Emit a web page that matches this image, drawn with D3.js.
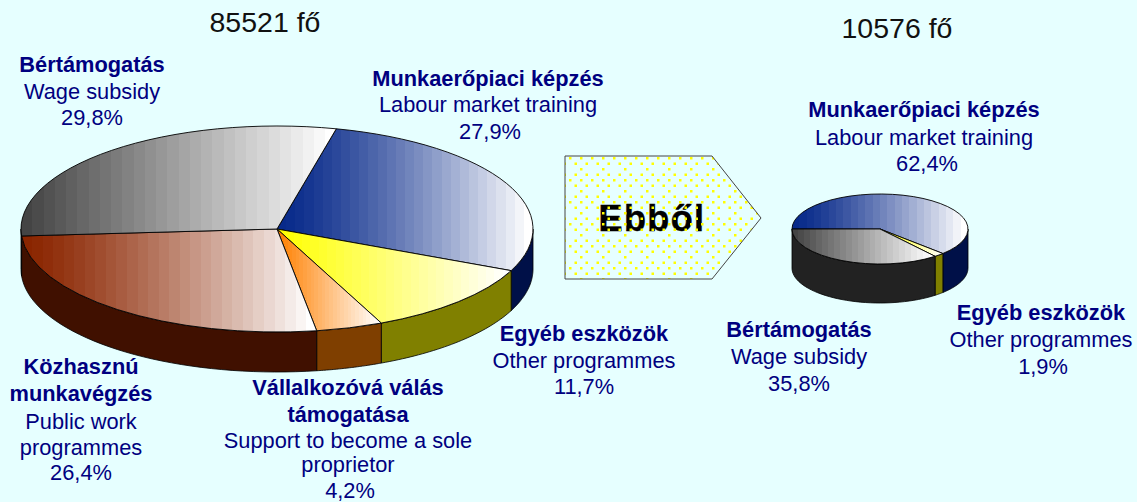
<!DOCTYPE html>
<html><head><meta charset="utf-8">
<script src="https://cdnjs.cloudflare.com/ajax/libs/d3/7.8.5/d3.min.js"></script>
<style>html,body{margin:0;padding:0;background:#e6ffff;overflow:hidden}svg{display:block}
text{font-family:"Liberation Sans",Arial,sans-serif}</style></head><body>
<svg id="c" width="1137" height="502"></svg>
<script>
const mainCategories = ["Munkaerőpiaci képzés","Egyéb eszközök","Vállalkozóvá válás","Közhasznú munkavégzés","Bértámogatás"];
const mainValues = [27.9, 11.7, 4.2, 26.4, 29.8];
const subCategories = ["Munkaerőpiaci képzés","Egyéb eszközök","Bértámogatás"];
const subValues = [62.4, 1.9, 35.8];
const mainTotal = "85521 fő";
const subTotal = "10576 fő";
const arrowLabel = "Ebből";

const mainColors = {top:["#082a8a","#ffff00","#ff8000","#8a2500","#444444"], curve:[1.3,1,1,1.25,1], wall:["#001048","#808000","#7f3f00","#401000","#222222"]};
const subColors = {top:["#082a8a","#ffff00","#444444"], curve:[1.3,1,1], wall:["#001048","#808000","#222222"]};

const INK = "#000080";
const svg = d3.select("#c");
const defs = svg.append("defs");
let gid = 0;

function bandedGradient(color, bands, curve){
  const id = "g"+(gid++);
  const ramp = d3.scalePow().exponent(curve).domain([0,1]).range([color,"#ffffff"]).interpolate(d3.interpolateRgb);
  const g = defs.append("linearGradient").attr("id",id).attr("x1",0).attr("x2",1).attr("y1",0).attr("y2",0);
  for(let i=0;i<bands;i++){
    const c = ramp(i/(bands-1));
    g.append("stop").attr("offset",i/bands).attr("stop-color",c);
    g.append("stop").attr("offset",(i+1)/bands).attr("stop-color",c);
  }
  return "url(#"+id+")";
}

function pie3d(values, colors, o){
  const toRad = Math.PI/180;
  const start = o.start*toRad;
  const slices = d3.pie().sort(null).startAngle(start).endAngle(start+2*Math.PI)(values);
  const g = svg.append("g").attr("transform",`translate(${o.cx},${o.cy})`);
  const xOf = t => o.rx*Math.sin(t), yOf = t => -o.ry*Math.cos(t);
  slices.forEach((s,i)=>{
    let spans=[[s.startAngle,s.endAngle],[s.startAngle+2*Math.PI,s.endAngle+2*Math.PI],[s.startAngle-2*Math.PI,s.endAngle-2*Math.PI]];
    spans.forEach(sp=>{
      const a0=Math.max(sp[0],Math.PI/2), a1=Math.min(sp[1],3*Math.PI/2);
      if(a1<=a0) return;
      const ts=d3.range(0,41).map(k=>a0+(a1-a0)*k/40);
      const pts=ts.map(t=>[xOf(t),yOf(t)]).concat(ts.slice().reverse().map(t=>[xOf(t),yOf(t)+o.depth]));
      g.append("path").attr("d",d3.line()(pts)+"Z").attr("fill",colors.wall[i])
        .attr("stroke","#000").attr("stroke-width",0.8).attr("stroke-linejoin","round");
    });
  });
  const arc = d3.arc().innerRadius(0).outerRadius(o.rx);
  const top = g.append("g").attr("transform",`scale(1,${o.ry/o.rx})`);
  top.selectAll("path").data(slices).join("path")
    .attr("d",arc)
    .attr("fill",(d,i)=>bandedGradient(colors.top[i],o.bands,colors.curve[i]))
    .attr("stroke","#000").attr("stroke-width",0.9)
    .attr("vector-effect","non-scaling-stroke");
}

pie3d(mainValues, mainColors, {cx:277,cy:229,rx:256,ry:103,depth:40,start:13.4,bands:28});
pie3d(subValues, subColors, {cx:880,cy:229,rx:88,ry:35,depth:39,start:-90,bands:24});

function title(t,x,y){svg.append("text").attr("x",x).attr("y",y).attr("text-anchor","middle").attr("font-size",28.5).attr("fill","#111").text(t);}
title(mainTotal,265,32);
title(subTotal,897,38);

function label(lines,x,ys,pctShift){
  lines.forEach((l,i)=>{
    svg.append("text").attr("x",x+(i===lines.length-1?pctShift:0)).attr("y",ys[i]).attr("text-anchor","middle")
      .attr("font-size",21.8).attr("fill",INK).attr("font-weight",l[1]?"bold":"normal").text(l[0]);
  });
}
const pct = v => v.toFixed(1).replace(".",",")+"%";
label([["Bértámogatás",1],["Wage subsidy",0],[pct(mainValues[4]),0]],92,[72,99,125],0);
label([["Munkaerőpiaci képzés",1],["Labour market training",0],[pct(mainValues[0]),0]],488,[86,112,139],2);
label([["Egyéb eszközök",1],["Other programmes",0],[pct(mainValues[1]),0]],584,[341,368,394],0);
label([["Közhasznú",1],["munkavégzés",1],["Public work",0],["programmes",0],[pct(mainValues[3]),0]],81,[374,401,429,455,480],0);
label([["Vállalkozóvá válás",1],["támogatása",1],["Support to become a sole",0],["proprietor",0],[pct(mainValues[2]),0]],348,[395,422,448,472,498],2);
label([["Munkaerőpiaci képzés",1],["Labour market training",0],[pct(subValues[0]),0]],924,[117,145,171],3);
label([["Bértámogatás",1],["Wage subsidy",0],[pct(subValues[2]),0]],799,[337,364,391],0);
label([["Egyéb eszközök",1],["Other programmes",0],[pct(subValues[1]),0]],1041,[320,347,374],2);

const arrow = [[565,156],[712,156],[761,218],[712,279],[565,279]];
const pat = defs.append("pattern").attr("id","dots").attr("patternUnits","userSpaceOnUse")
  .attr("width",22).attr("height",22).attr("x",569).attr("y",156);
[[0,0],[11,0],[5.5,5.5],[16.5,5.5],[11,11],[5.5,16.5],[16.5,16.5]].forEach(p=>{
  pat.append("rect").attr("x",p[0]).attr("y",p[1]+1).attr("width",2.5).attr("height",2.5).attr("fill","#ffff00");
});
svg.append("text").attr("x",652).attr("y",231).attr("text-anchor","middle").attr("font-size",36)
  .attr("font-weight","bold").attr("letter-spacing",1.4).attr("fill","#000").attr("stroke","#000").attr("stroke-width",0.5).text(arrowLabel);
svg.append("polygon").attr("points",arrow.join(" ")).attr("fill","url(#dots)").attr("stroke","#444").attr("stroke-width",1);
</script></body></html>
